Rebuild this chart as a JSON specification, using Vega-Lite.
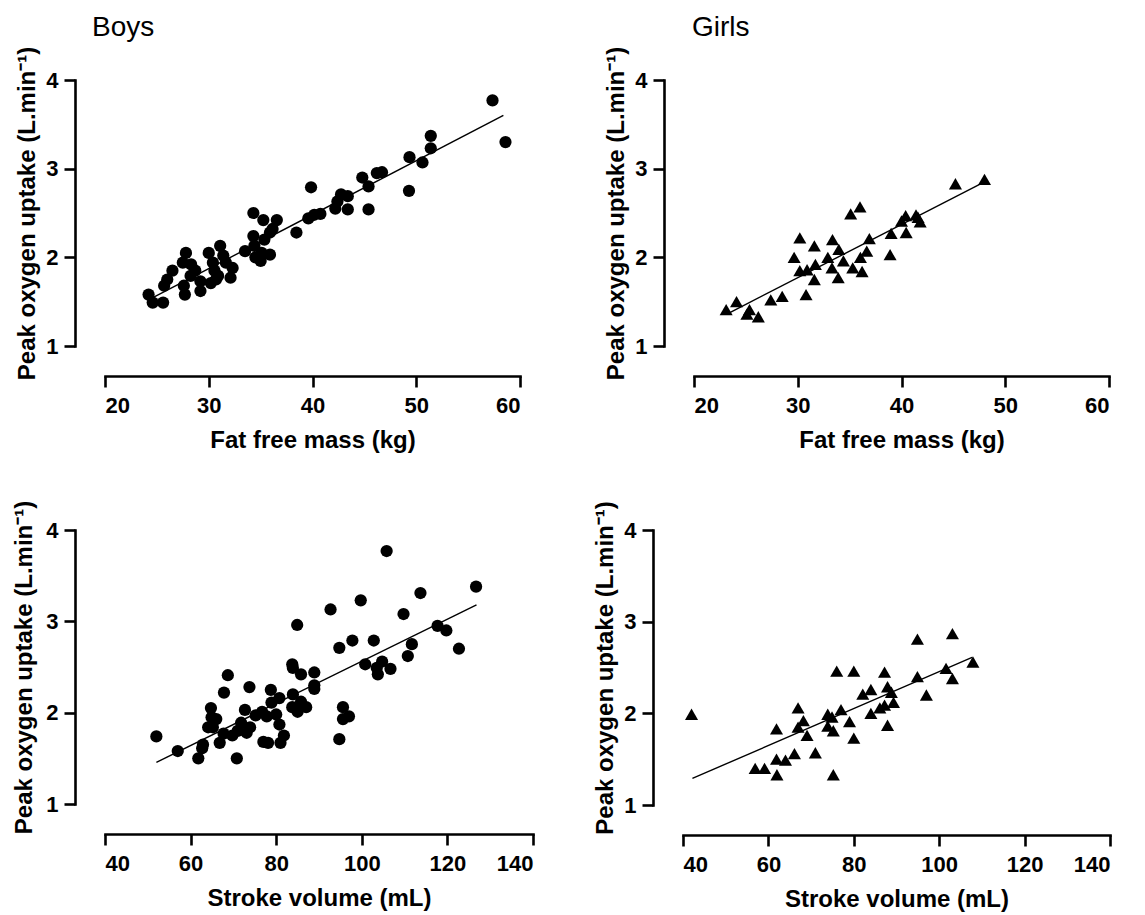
{
  "$schema": "https://vega.github.io/schema/vega-lite/v6.json",
  "padding": {"left": 12, "top": 14, "right": 5, "bottom": 2},
  "background": "white",
  "datasets": {
    "boys_ffm": [
      {"ffm": 24.2, "vo2": 1.58}, {"ffm": 24.6, "vo2": 1.49}, {"ffm": 25.6, "vo2": 1.49}, {"ffm": 25.7, "vo2": 1.68},
      {"ffm": 26.0, "vo2": 1.75}, {"ffm": 26.5, "vo2": 1.85}, {"ffm": 27.5, "vo2": 1.94}, {"ffm": 27.8, "vo2": 2.05},
      {"ffm": 27.6, "vo2": 1.68}, {"ffm": 27.7, "vo2": 1.58}, {"ffm": 28.3, "vo2": 1.92}, {"ffm": 28.25, "vo2": 1.79},
      {"ffm": 28.7, "vo2": 1.85}, {"ffm": 29.2, "vo2": 1.73}, {"ffm": 29.2, "vo2": 1.62}, {"ffm": 30.0, "vo2": 2.05},
      {"ffm": 30.2, "vo2": 1.71}, {"ffm": 30.4, "vo2": 1.94}, {"ffm": 30.55, "vo2": 1.85}, {"ffm": 30.7, "vo2": 1.75},
      {"ffm": 30.9, "vo2": 1.79}, {"ffm": 31.1, "vo2": 2.13}, {"ffm": 31.4, "vo2": 2.02}, {"ffm": 31.65, "vo2": 1.94},
      {"ffm": 32.1, "vo2": 1.77}, {"ffm": 32.3, "vo2": 1.88}, {"ffm": 33.5, "vo2": 2.07}, {"ffm": 34.3, "vo2": 2.5},
      {"ffm": 34.3, "vo2": 2.24}, {"ffm": 34.4, "vo2": 2.13}, {"ffm": 34.5, "vo2": 2.0}, {"ffm": 35.0, "vo2": 1.96},
      {"ffm": 35.1, "vo2": 2.05}, {"ffm": 35.26, "vo2": 2.42}, {"ffm": 35.36, "vo2": 2.2}, {"ffm": 35.9, "vo2": 2.03},
      {"ffm": 35.9, "vo2": 2.28}, {"ffm": 36.15, "vo2": 2.32}, {"ffm": 36.56, "vo2": 2.42}, {"ffm": 38.45, "vo2": 2.28},
      {"ffm": 39.6, "vo2": 2.44}, {"ffm": 39.86, "vo2": 2.79}, {"ffm": 40.17, "vo2": 2.48}, {"ffm": 40.76, "vo2": 2.49},
      {"ffm": 42.2, "vo2": 2.55}, {"ffm": 42.4, "vo2": 2.63}, {"ffm": 42.75, "vo2": 2.71}, {"ffm": 43.4, "vo2": 2.69},
      {"ffm": 43.4, "vo2": 2.54}, {"ffm": 44.8, "vo2": 2.9}, {"ffm": 45.4, "vo2": 2.8}, {"ffm": 45.4, "vo2": 2.54},
      {"ffm": 46.2, "vo2": 2.95}, {"ffm": 46.7, "vo2": 2.96}, {"ffm": 49.3, "vo2": 2.75}, {"ffm": 49.35, "vo2": 3.13},
      {"ffm": 50.6, "vo2": 3.07}, {"ffm": 51.4, "vo2": 3.23}, {"ffm": 51.4, "vo2": 3.37}, {"ffm": 57.35, "vo2": 3.77},
      {"ffm": 58.6, "vo2": 3.3}
    ],
    "boys_ffm_fit": [{"ffm": 24.7, "vo2": 1.55}, {"ffm": 58.4, "vo2": 3.6}],
    "girls_ffm": [
      {"ffm": 23.1, "vo2": 1.41}, {"ffm": 24.1, "vo2": 1.5}, {"ffm": 25.1, "vo2": 1.36}, {"ffm": 25.35, "vo2": 1.41},
      {"ffm": 26.2, "vo2": 1.33}, {"ffm": 27.4, "vo2": 1.52}, {"ffm": 28.5, "vo2": 1.56}, {"ffm": 29.65, "vo2": 2.0},
      {"ffm": 30.2, "vo2": 2.22}, {"ffm": 30.2, "vo2": 1.85}, {"ffm": 30.8, "vo2": 1.58}, {"ffm": 30.9, "vo2": 1.86},
      {"ffm": 31.6, "vo2": 2.13}, {"ffm": 31.6, "vo2": 1.75}, {"ffm": 31.7, "vo2": 1.92}, {"ffm": 32.9, "vo2": 2.0},
      {"ffm": 33.35, "vo2": 2.2}, {"ffm": 33.3, "vo2": 1.88}, {"ffm": 33.9, "vo2": 1.77}, {"ffm": 33.96, "vo2": 2.09},
      {"ffm": 34.4, "vo2": 1.96}, {"ffm": 35.1, "vo2": 2.49}, {"ffm": 35.3, "vo2": 1.88}, {"ffm": 36.0, "vo2": 2.57},
      {"ffm": 36.04, "vo2": 2.0}, {"ffm": 36.2, "vo2": 1.84}, {"ffm": 36.65, "vo2": 2.07}, {"ffm": 36.9, "vo2": 2.21},
      {"ffm": 38.9, "vo2": 2.03}, {"ffm": 39.0, "vo2": 2.27}, {"ffm": 40.0, "vo2": 2.41}, {"ffm": 40.4, "vo2": 2.47},
      {"ffm": 40.45, "vo2": 2.28}, {"ffm": 41.4, "vo2": 2.48}, {"ffm": 41.8, "vo2": 2.4}, {"ffm": 41.6, "vo2": 2.45},
      {"ffm": 45.2, "vo2": 2.83}, {"ffm": 48.0, "vo2": 2.88}
    ],
    "girls_ffm_fit": [{"ffm": 23.5, "vo2": 1.38}, {"ffm": 48.0, "vo2": 2.85}],
    "boys_sv": [
      {"sv": 52.0, "vo2": 1.74}, {"sv": 57.0, "vo2": 1.58}, {"sv": 61.8, "vo2": 1.5}, {"sv": 62.7, "vo2": 1.61},
      {"sv": 62.9, "vo2": 1.65}, {"sv": 64.1, "vo2": 1.84}, {"sv": 64.75, "vo2": 2.05}, {"sv": 64.9, "vo2": 1.95},
      {"sv": 66.0, "vo2": 1.93}, {"sv": 65.2, "vo2": 1.84}, {"sv": 66.8, "vo2": 1.67}, {"sv": 67.8, "vo2": 2.22},
      {"sv": 68.7, "vo2": 2.41}, {"sv": 67.7, "vo2": 1.77}, {"sv": 69.75, "vo2": 1.75}, {"sv": 70.8, "vo2": 1.5},
      {"sv": 71.0, "vo2": 1.8}, {"sv": 71.8, "vo2": 1.89}, {"sv": 72.7, "vo2": 2.03}, {"sv": 73.1, "vo2": 1.78},
      {"sv": 73.75, "vo2": 2.28}, {"sv": 73.9, "vo2": 1.84}, {"sv": 75.2, "vo2": 1.97}, {"sv": 76.7, "vo2": 2.01},
      {"sv": 77.0, "vo2": 1.68}, {"sv": 78.1, "vo2": 1.67}, {"sv": 77.8, "vo2": 1.96}, {"sv": 78.75, "vo2": 2.25},
      {"sv": 78.9, "vo2": 2.11}, {"sv": 80.0, "vo2": 1.98}, {"sv": 80.75, "vo2": 1.87}, {"sv": 80.75, "vo2": 2.16},
      {"sv": 81.0, "vo2": 1.67}, {"sv": 81.8, "vo2": 1.75}, {"sv": 83.75, "vo2": 2.53}, {"sv": 83.9, "vo2": 2.49},
      {"sv": 83.9, "vo2": 2.2}, {"sv": 83.75, "vo2": 2.06}, {"sv": 84.9, "vo2": 2.96}, {"sv": 85.0, "vo2": 2.01},
      {"sv": 85.8, "vo2": 2.42}, {"sv": 85.8, "vo2": 2.12}, {"sv": 87.0, "vo2": 2.06}, {"sv": 88.9, "vo2": 2.44},
      {"sv": 88.9, "vo2": 2.26}, {"sv": 88.9, "vo2": 2.3}, {"sv": 92.7, "vo2": 3.13}, {"sv": 94.75, "vo2": 1.71},
      {"sv": 94.75, "vo2": 2.71}, {"sv": 95.6, "vo2": 2.06}, {"sv": 95.6, "vo2": 1.93}, {"sv": 97.0, "vo2": 1.96},
      {"sv": 97.8, "vo2": 2.79}, {"sv": 99.75, "vo2": 3.23}, {"sv": 100.8, "vo2": 2.53}, {"sv": 102.8, "vo2": 2.79},
      {"sv": 103.5, "vo2": 2.49}, {"sv": 103.75, "vo2": 2.42}, {"sv": 104.75, "vo2": 2.56}, {"sv": 105.8, "vo2": 3.77},
      {"sv": 106.7, "vo2": 2.48}, {"sv": 109.75, "vo2": 3.08}, {"sv": 110.75, "vo2": 2.62}, {"sv": 111.7, "vo2": 2.75},
      {"sv": 113.7, "vo2": 3.31}, {"sv": 117.7, "vo2": 2.95}, {"sv": 119.75, "vo2": 2.9}, {"sv": 122.7, "vo2": 2.7},
      {"sv": 126.7, "vo2": 3.38}
    ],
    "boys_sv_fit": [{"sv": 52.0, "vo2": 1.456}, {"sv": 126.8, "vo2": 3.18}],
    "girls_sv": [
      {"sv": 42.0, "vo2": 1.99}, {"sv": 56.9, "vo2": 1.4}, {"sv": 59.1, "vo2": 1.4}, {"sv": 61.9, "vo2": 1.83},
      {"sv": 61.9, "vo2": 1.5}, {"sv": 62.0, "vo2": 1.33}, {"sv": 64.0, "vo2": 1.49}, {"sv": 66.1, "vo2": 1.56},
      {"sv": 66.95, "vo2": 2.06}, {"sv": 66.95, "vo2": 1.85}, {"sv": 68.2, "vo2": 1.92}, {"sv": 69.05, "vo2": 1.76},
      {"sv": 71.0, "vo2": 1.57}, {"sv": 73.9, "vo2": 1.99}, {"sv": 73.9, "vo2": 1.86}, {"sv": 74.9, "vo2": 1.96},
      {"sv": 75.2, "vo2": 1.81}, {"sv": 75.2, "vo2": 1.33}, {"sv": 76.0, "vo2": 2.46}, {"sv": 77.0, "vo2": 2.04},
      {"sv": 79.0, "vo2": 1.91}, {"sv": 80.0, "vo2": 2.46}, {"sv": 80.0, "vo2": 1.73}, {"sv": 82.1, "vo2": 2.21},
      {"sv": 84.0, "vo2": 2.26}, {"sv": 84.0, "vo2": 2.0}, {"sv": 86.1, "vo2": 2.06}, {"sv": 87.2, "vo2": 2.45},
      {"sv": 87.2, "vo2": 2.09}, {"sv": 87.9, "vo2": 2.29}, {"sv": 87.9, "vo2": 1.87}, {"sv": 88.8, "vo2": 2.23},
      {"sv": 89.3, "vo2": 2.12}, {"sv": 94.9, "vo2": 2.81}, {"sv": 94.9, "vo2": 2.4}, {"sv": 97.0, "vo2": 2.2},
      {"sv": 101.6, "vo2": 2.49}, {"sv": 103.1, "vo2": 2.87}, {"sv": 103.1, "vo2": 2.38}, {"sv": 107.9, "vo2": 2.56}
    ],
    "girls_sv_fit": [{"sv": 42.2, "vo2": 1.29}, {"sv": 107.7, "vo2": 2.61}]
  },
  "vconcat": [
    {
      "hconcat": [
        {
          "width": 415, "height": 266,
          "title": {"text": "Boys", "anchor": "start", "frame": "group", "fontSize": 28, "fontWeight": "normal", "font": "Liberation Sans", "color": "black", "dx": -13, "offset": 4},
          "layer": [
            {
              "data": {"name": "boys_ffm"},
              "mark": {"type": "point", "shape": "circle", "filled": true, "size": 150, "color": "black", "opacity": 1},
              "encoding": {
                "x": {"field": "ffm", "type": "quantitative", "scale": {"domain": [20, 60], "nice": false, "zero": false}, "axis": {"values": [20, 30, 40, 50, 60], "title": "Fat free mass (kg)"}},
                "y": {"field": "vo2", "type": "quantitative", "scale": {"domain": [1, 4], "nice": false, "zero": false}, "axis": {"values": [1, 2, 3, 4], "format": "d", "title": "Peak oxygen uptake (L.min⁻¹)"}}
              }
            },
            {
              "data": {"name": "boys_ffm_fit"},
              "mark": {"type": "line", "color": "black", "strokeWidth": 1.4},
              "encoding": {
                "x": {"field": "ffm", "type": "quantitative"},
                "y": {"field": "vo2", "type": "quantitative"}
              }
            }
          ]
        },
        {
          "width": 415, "height": 266,
          "title": {"text": "Girls", "anchor": "start", "frame": "group", "fontSize": 28, "fontWeight": "normal", "font": "Liberation Sans", "color": "black", "dx": -2, "offset": 4},
          "layer": [
            {
              "data": {"name": "girls_ffm"},
              "mark": {"type": "point", "shape": "triangle-up", "filled": true, "size": 170, "color": "black", "opacity": 1},
              "encoding": {
                "x": {"field": "ffm", "type": "quantitative", "scale": {"domain": [20, 60], "nice": false, "zero": false}, "axis": {"values": [20, 30, 40, 50, 60], "title": "Fat free mass (kg)"}},
                "y": {"field": "vo2", "type": "quantitative", "scale": {"domain": [1, 4], "nice": false, "zero": false}, "axis": {"values": [1, 2, 3, 4], "format": "d", "title": "Peak oxygen uptake (L.min⁻¹)"}}
              }
            },
            {
              "data": {"name": "girls_ffm_fit"},
              "mark": {"type": "line", "color": "black", "strokeWidth": 1.4},
              "encoding": {
                "x": {"field": "ffm", "type": "quantitative"},
                "y": {"field": "vo2", "type": "quantitative"}
              }
            }
          ]
        }
      ],
      "spacing": 82
    },
    {
      "hconcat": [
        {
          "width": 428, "height": 274,
          "layer": [
            {
              "data": {"name": "boys_sv"},
              "mark": {"type": "point", "shape": "circle", "filled": true, "size": 150, "color": "black", "opacity": 1},
              "encoding": {
                "x": {"field": "sv", "type": "quantitative", "scale": {"domain": [40, 140], "nice": false, "zero": false}, "axis": {"values": [40, 60, 80, 100, 120, 140], "title": "Stroke volume (mL)"}},
                "y": {"field": "vo2", "type": "quantitative", "scale": {"domain": [1, 4], "nice": false, "zero": false}, "axis": {"values": [1, 2, 3, 4], "format": "d", "titlePadding": 9, "title": "Peak oxygen uptake (L.min⁻¹)"}}
              }
            },
            {
              "data": {"name": "boys_sv_fit"},
              "mark": {"type": "line", "color": "black", "strokeWidth": 1.4},
              "encoding": {
                "x": {"field": "sv", "type": "quantitative"},
                "y": {"field": "vo2", "type": "quantitative"}
              }
            }
          ]
        },
        {
          "width": 427, "height": 275,
          "layer": [
            {
              "data": {"name": "girls_sv"},
              "mark": {"type": "point", "shape": "triangle-up", "filled": true, "size": 170, "color": "black", "opacity": 1},
              "encoding": {
                "x": {"field": "sv", "type": "quantitative", "scale": {"domain": [40, 140], "nice": false, "zero": false}, "axis": {"values": [40, 60, 80, 100, 120, 140], "title": "Stroke volume (mL)"}},
                "y": {"field": "vo2", "type": "quantitative", "scale": {"domain": [1, 4], "nice": false, "zero": false}, "axis": {"values": [1, 2, 3, 4], "format": "d", "title": "Peak oxygen uptake (L.min⁻¹)"}}
              }
            },
            {
              "data": {"name": "girls_sv_fit"},
              "mark": {"type": "line", "color": "black", "strokeWidth": 1.4},
              "encoding": {
                "x": {"field": "sv", "type": "quantitative"},
                "y": {"field": "vo2", "type": "quantitative"}
              }
            }
          ]
        }
      ],
      "spacing": 58
    }
  ],
  "spacing": 48,
  "config": {
    "view": {"stroke": null},
    "font": "Liberation Sans",
    "axis": {
      "grid": false,
      "offset": 30,
      "domainColor": "black",
      "domainWidth": 2.6,
      "domainCap": "square",
      "tickColor": "black",
      "tickWidth": 2.6,
      "tickSize": 11,
      "labelFont": "Liberation Sans",
      "labelFontSize": 22,
      "labelFontWeight": "bold",
      "labelColor": "black",
      "labelPadding": 6,
      "labelOverlap": false,
      "titleFont": "Liberation Sans",
      "titleFontSize": 24,
      "titleFontWeight": "bold",
      "titleColor": "black"
    },
    "axisX": {"labelPadding": 8, "titlePadding": 12},
    "axisY": {"titlePadding": 6}
  }
}
